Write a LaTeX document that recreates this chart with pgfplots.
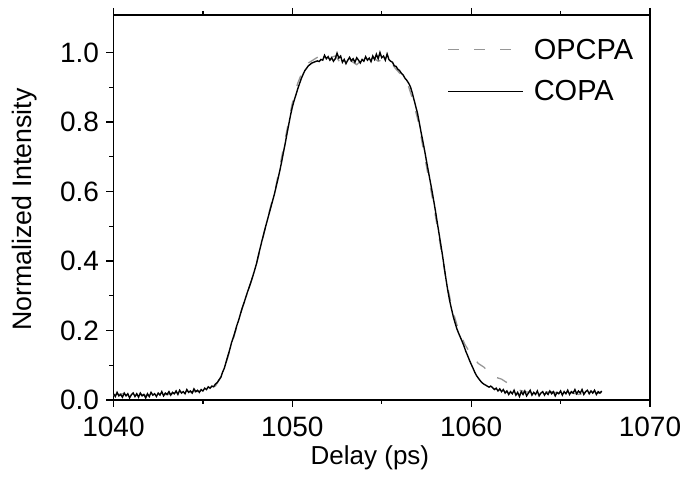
\documentclass[border=0pt]{standalone}
\usepackage{fontspec}
\setmainfont{Liberation Sans}
\usepackage{pgfplots}
\pgfplotsset{compat=1.18}

\definecolor{dashgray}{RGB}{150,150,150}

\begin{document}
\begin{tikzpicture}
\begin{axis}[
  scale only axis,
  width=536.5pt, height=385pt,
  xmin=1040, xmax=1070,
  ymin=0, ymax=1.108,
  xtick={1040,1050,1060,1070},
  minor x tick num=1,
  ytick={0,0.2,0.4,0.6,0.8,1.0},
  minor y tick num=1,
  tick align=outside,
  xtick pos=both,
  xticklabel pos=bottom,
  ytick pos=left,
  major tick length=7pt,
  minor tick length=4pt,
  every tick/.style={black, line width=1.3pt},
  axis line style={line width=1.6pt},
  font=\fontsize{28}{32}\selectfont,
  /pgf/number format/assume math mode=true,
  yticklabel style={xshift=-4pt, /pgf/number format/.cd, fixed, fixed zerofill, precision=1},
  xticklabel style={yshift=-6pt, /pgf/number format/.cd, fixed, 1000 sep={}},
  xlabel={Delay (ps)},
  ylabel={Normalized Intensity},
  xlabel style={font=\fontsize{26}{30}\selectfont, at={(axis description cs:0.478,-0.15)}, anchor=center},
  ylabel style={font=\fontsize{26.7}{30}\selectfont, at={(axis description cs:-0.165,0.495)}, anchor=center},
  legend style={draw=none, fill=none, inner sep=0pt, at={(0.622,0.944)}, anchor=north west,
    row sep=16pt, font=\fontsize{29}{33}\selectfont},
  legend cell align=left,
  legend image code/.code={\draw[#1] (0pt,0pt) -- (75pt,0pt); \path (83pt,0pt);},
]

\addplot[dashgray, line width=1.3pt, dash pattern=on 11pt off 15pt] coordinates {
(1040.0,0.014) (1040.5,0.018) (1041.0,0.012) (1041.5,0.016) (1042.0,0.012)
(1042.5,0.018) (1043.0,0.015) (1043.5,0.020) (1044.0,0.018) (1044.5,0.024)
(1045.0,0.026) (1045.3,0.030) (1045.7,0.040) (1046.1,0.075) (1046.25,0.100)
(1046.56,0.150) (1046.86,0.205) (1047.17,0.260) (1047.48,0.310) (1047.83,0.360)
(1048.14,0.420) (1048.44,0.485) (1048.75,0.550) (1049.06,0.610) (1049.37,0.690)
(1049.67,0.770) (1049.98,0.850) (1050.29,0.910) (1050.6,0.950) (1050.9,0.970)
(1051.21,0.980) (1051.52,0.990) (1051.83,0.995) (1052.1,0.985) (1052.4,0.990)
(1052.7,0.970) (1053.0,0.985) (1053.3,0.975) (1053.6,0.965) (1053.9,0.980)
(1054.2,0.972) (1054.5,0.985) (1054.8,0.975) (1055.1,0.980) (1055.45,0.975)
(1055.75,0.955) (1056.1,0.935) (1056.45,0.910) (1056.7,0.870) (1057.05,0.800)
(1057.4,0.700) (1057.8,0.590) (1058.2,0.470) (1058.58,0.350) (1058.95,0.260)
(1059.3,0.200) (1059.65,0.160) (1060.0,0.130) (1060.4,0.105) (1060.7,0.095)
(1061.0,0.080) (1061.4,0.065) (1061.7,0.060) (1062.0,0.050) (1062.3,0.038)
(1062.6,0.030) (1063.0,0.024) (1063.5,0.020) (1064.0,0.022) (1064.5,0.024)
(1065.0,0.018) (1065.5,0.022) (1066.0,0.016) (1066.5,0.020) (1067.0,0.018)
(1067.3,0.022)
};
\addlegendentry{OPCPA}

\addplot[black, line width=1.4pt] coordinates {
(1040.0,0.018) (1040.1,0.010) (1040.2,0.022) (1040.3,0.012) (1040.4,0.016)
(1040.5,0.008) (1040.6,0.020) (1040.7,0.012) (1040.8,0.018) (1040.9,0.006)
(1041.0,0.015) (1041.1,0.020) (1041.2,0.010) (1041.3,0.018) (1041.4,0.008)
(1041.5,0.020) (1041.6,0.012) (1041.7,0.016) (1041.8,0.006) (1041.9,0.018)
(1042.0,0.010) (1042.1,0.022) (1042.2,0.014) (1042.3,0.018) (1042.4,0.010)
(1042.5,0.020) (1042.6,0.014) (1042.7,0.024) (1042.8,0.012) (1042.9,0.020)
(1043.0,0.016) (1043.1,0.024) (1043.2,0.014) (1043.3,0.022) (1043.4,0.018)
(1043.5,0.026) (1043.6,0.016) (1043.7,0.028) (1043.8,0.020) (1043.9,0.024)
(1044.0,0.018) (1044.1,0.030) (1044.2,0.022) (1044.3,0.026) (1044.4,0.020)
(1044.5,0.032) (1044.6,0.024) (1044.7,0.028) (1044.8,0.022) (1044.9,0.030)
(1045.0,0.026) (1045.1,0.034) (1045.2,0.030) (1045.3,0.038) (1045.4,0.034)
(1045.5,0.040) (1045.6,0.038) (1045.7,0.046) (1045.8,0.050) (1045.9,0.058)
(1046.0,0.065) (1046.1,0.080) (1046.2,0.092) (1046.3,0.110) (1046.4,0.128)
(1046.5,0.145) (1046.6,0.165) (1046.7,0.180) (1046.8,0.197) (1046.9,0.215)
(1047.0,0.230) (1047.1,0.248) (1047.2,0.265) (1047.3,0.280) (1047.4,0.296)
(1047.5,0.312) (1047.6,0.326) (1047.7,0.342) (1047.8,0.358) (1047.9,0.375)
(1048.0,0.393) (1048.1,0.416) (1048.2,0.437) (1048.3,0.458) (1048.4,0.478)
(1048.5,0.498) (1048.6,0.517) (1048.7,0.536) (1048.8,0.555) (1048.9,0.574)
(1049.0,0.593) (1049.1,0.615) (1049.2,0.637) (1049.3,0.660) (1049.4,0.685)
(1049.5,0.712) (1049.6,0.738) (1049.7,0.766) (1049.8,0.793) (1049.9,0.820)
(1050.0,0.843) (1050.1,0.862) (1050.2,0.878) (1050.3,0.895) (1050.4,0.910)
(1050.5,0.925) (1050.6,0.937) (1050.7,0.948) (1050.8,0.955) (1050.9,0.962)
(1051.0,0.966) (1051.1,0.970) (1051.2,0.972) (1051.3,0.974) (1051.4,0.976)
(1051.5,0.974) (1051.6,0.980) (1051.7,0.978) (1051.8,0.992) (1051.9,0.982)
(1052.0,0.988) (1052.1,0.978) (1052.2,0.985) (1052.3,0.975) (1052.4,0.982)
(1052.5,0.998) (1052.6,0.984) (1052.7,0.990) (1052.8,0.972) (1052.9,0.980)
(1053.0,0.968) (1053.1,0.978) (1053.2,0.986) (1053.3,0.976) (1053.4,0.982)
(1053.5,0.972) (1053.6,0.985) (1053.7,0.978) (1053.8,0.970) (1053.9,0.980)
(1054.0,0.975) (1054.1,0.988) (1054.2,0.978) (1054.3,0.984) (1054.4,0.974)
(1054.5,0.990) (1054.6,0.980) (1054.7,0.995) (1054.8,0.982) (1054.9,1.000)
(1055.0,0.985) (1055.1,0.990) (1055.2,0.978) (1055.3,0.996) (1055.4,0.980)
(1055.5,0.975) (1055.6,0.972) (1055.7,0.962) (1055.8,0.960) (1055.9,0.952)
(1056.0,0.948) (1056.1,0.940) (1056.2,0.935) (1056.3,0.926) (1056.4,0.920)
(1056.5,0.912) (1056.6,0.902) (1056.7,0.885) (1056.8,0.865) (1056.9,0.845)
(1057.0,0.825) (1057.1,0.798) (1057.2,0.770) (1057.3,0.744) (1057.4,0.717)
(1057.5,0.688) (1057.6,0.660) (1057.7,0.632) (1057.8,0.605) (1057.9,0.575)
(1058.0,0.545) (1058.1,0.512) (1058.2,0.480) (1058.3,0.448) (1058.4,0.415)
(1058.5,0.380) (1058.6,0.345) (1058.7,0.313) (1058.8,0.285) (1058.9,0.262)
(1059.0,0.240) (1059.1,0.222) (1059.2,0.205) (1059.3,0.192) (1059.4,0.180)
(1059.5,0.168) (1059.6,0.155) (1059.7,0.140) (1059.8,0.128) (1059.9,0.115)
(1060.0,0.103) (1060.1,0.092) (1060.2,0.080) (1060.3,0.070) (1060.4,0.063)
(1060.5,0.056) (1060.6,0.050) (1060.7,0.046) (1060.8,0.043) (1060.9,0.040)
(1061.0,0.037) (1061.1,0.040) (1061.2,0.035) (1061.3,0.030) (1061.4,0.034)
(1061.5,0.026) (1061.6,0.032) (1061.7,0.024) (1061.8,0.030) (1061.9,0.020)
(1062.0,0.026) (1062.1,0.016) (1062.2,0.024) (1062.3,0.018) (1062.4,0.028)
(1062.5,0.014) (1062.6,0.022) (1062.7,0.010) (1062.8,0.024) (1062.9,0.016)
(1063.0,0.026) (1063.1,0.012) (1063.2,0.020) (1063.3,0.028) (1063.4,0.014)
(1063.5,0.022) (1063.6,0.016) (1063.7,0.026) (1063.8,0.012) (1063.9,0.020)
(1064.0,0.024) (1064.1,0.014) (1064.2,0.022) (1064.3,0.016) (1064.4,0.026)
(1064.5,0.018) (1064.6,0.024) (1064.7,0.012) (1064.8,0.022) (1064.9,0.018)
(1065.0,0.026) (1065.1,0.014) (1065.2,0.024) (1065.3,0.018) (1065.4,0.028)
(1065.5,0.016) (1065.6,0.024) (1065.7,0.020) (1065.8,0.030) (1065.9,0.018)
(1066.0,0.026) (1066.1,0.020) (1066.2,0.030) (1066.3,0.016) (1066.4,0.024)
(1066.5,0.028) (1066.6,0.018) (1066.7,0.026) (1066.8,0.020) (1066.9,0.028)
(1067.0,0.016) (1067.1,0.024) (1067.2,0.020) (1067.3,0.026)
};
\addlegendentry{COPA}

\end{axis}
\pgfresetboundingbox
\path (current axis.south west) ++(-113.5pt,-78pt) rectangle ++(688pt,478pt);
\end{tikzpicture}
\end{document}
